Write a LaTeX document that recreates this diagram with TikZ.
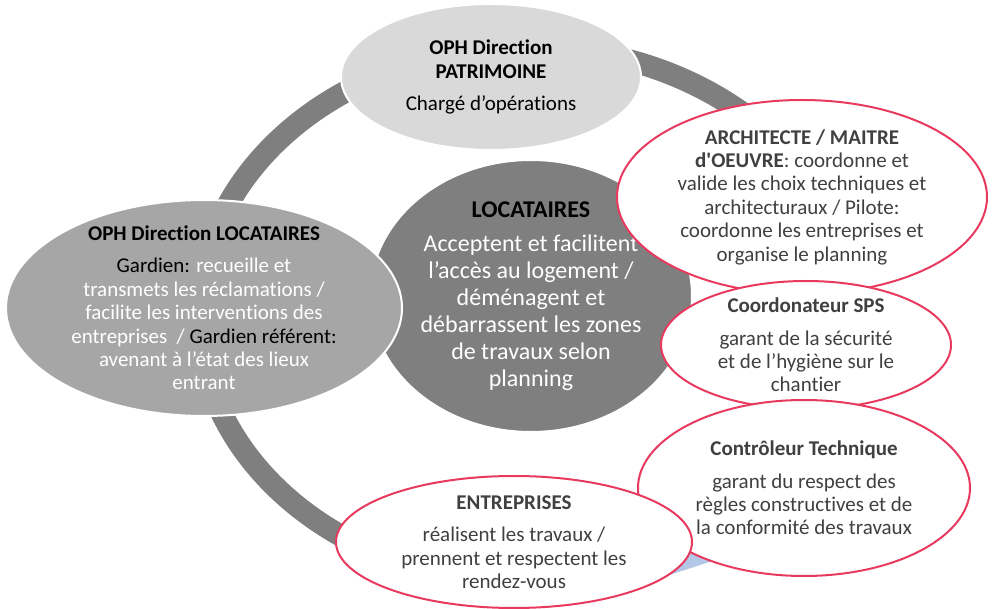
\documentclass[tikz,border=0pt]{standalone}
\usepackage{fontspec}
\setmainfont{Carlito}[Ligatures={TeX,NoCommon}]
\usetikzlibrary{shapes.geometric}

\definecolor{ringgray}{HTML}{7F7F7F}
\definecolor{topgray}{HTML}{D9D9D9}
\definecolor{leftgray}{HTML}{A6A6A6}
\definecolor{partnerred}{HTML}{E83A5F}
\definecolor{textgray}{HTML}{404040}
\definecolor{linkblue}{HTML}{B4C7E7}

\begin{document}
\begin{tikzpicture}[x=1pt,y=-1pt]

\tikzset{bubble/.style = {shape=ellipse, inner sep=-30pt, align=center, font=\fontsize{21}{23.4}\selectfont}}
\tikzset{office/.style = {bubble, draw=white, line width=2pt}}
\tikzset{partner/.style = {bubble, draw=partnerred, line width=2pt, fill=white, text=textgray}}

\useasboundingbox (0,0) rectangle (994,609);
%cycle
\draw[ringgray, line width=22pt] (527,315) ellipse [x radius=328, y radius=268];
\fill[linkblue] (660,578) -- (722,558) -- (700,530) -- (650,540) -- cycle;
%offices
\node[office, fill=topgray, minimum width=300, minimum height=146] (patrimoine) at (491,77)
  {\textbf{OPH Direction}\\\textbf{PATRIMOINE}\\[9pt]Chargé d’opérations};
\node[office, fill=ringgray, text=white, minimum width=322, minimum height=272,
  font=\fontsize{24}{27}\selectfont] (locataires) at (531,296)
  {\textcolor{black}{\textbf{LOCATAIRES}}\\[7pt]Acceptent et facilitent\\l’accès au logement /\\déménagent et\\débarrassent les zones\\de travaux selon\\planning};
\node[office, fill=leftgray, text=white, minimum width=396, minimum height=216] (gardien) at (204,308)
  {\textcolor{black}{\textbf{OPH Direction LOCATAIRES}}\\[9pt]
   \textcolor{black}{Gardien:} recueille et\\transmets les réclamations /\\facilite les interventions des\\
   entreprises~~/ \textcolor{black}{Gardien référent:}\\avenant à l’état des lieux\\entrant};
%partners
\node[partner, minimum width=370, minimum height=194] (archi) at (802,197)
  {\textbf{ARCHITECTE / MAITRE}\\\textbf{d\textquotesingle OEUVRE}: coordonne et\\valide les choix techniques et\\
   architecturaux / Pilote:\\coordonne les entreprises et\\organise le planning};
\node[partner, minimum width=290, minimum height=128] (sps) at (806,345)
  {\textbf{Coordonateur SPS}\\[9pt]garant de la sécurité\\et de l’hygiène sur le\\chantier};
\node[partner, minimum width=332, minimum height=176] (controle) at (804,488)
  {\textbf{Contrôleur Technique}\\[9pt]garant du respect des\\règles constructives et de\\la conformité des travaux};
\node[partner, minimum width=356, minimum height=132] (entreprises) at (514,542)
  {\textbf{ENTREPRISES}\\[9pt]réalisent les travaux /\\prennent et respectent les\\rendez-vous};

\end{tikzpicture}
\end{document}
